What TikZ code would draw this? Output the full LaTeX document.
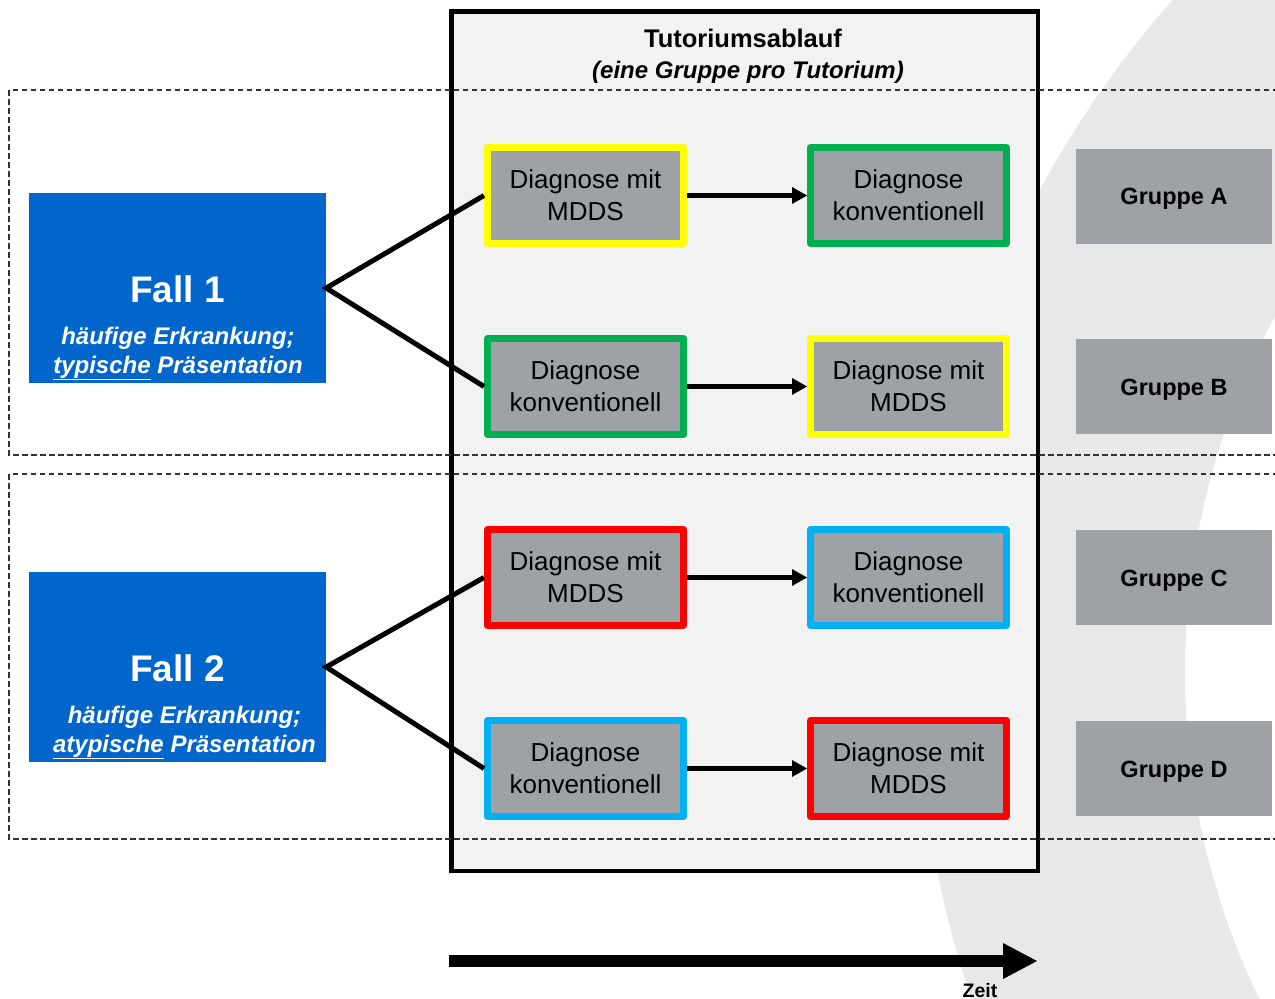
\documentclass[tikz,border=0pt]{standalone}
\usepackage{fontspec}
\setmainfont{Liberation Sans}
\usetikzlibrary{arrows.meta}
\definecolor{fallblue}{HTML}{0066CC}
\definecolor{boxgrey}{HTML}{9EA2A6}
\definecolor{tutfill}{HTML}{F2F2F2}
\definecolor{arcgrey}{HTML}{E8E8E8}
\definecolor{myyellow}{HTML}{FFFF00}
\definecolor{mygreen}{HTML}{00B050}
\definecolor{myred}{HTML}{FF0000}
\definecolor{mycyan}{HTML}{00B0F0}
\definecolor{dashgrey}{HTML}{333333}
\begin{document}
\begin{tikzpicture}[x=1pt,y=-1pt,
  diag/.style={draw=#1, fill=boxgrey, line width=7pt, minimum width=196pt,
    minimum height=96pt, inner sep=0pt, align=center, line join=round,
    font=\fontsize{26}{32}\selectfont},
  gruppe/.style={fill=boxgrey, minimum width=196pt, minimum height=95pt,
    inner sep=0pt, text height=17pt, text depth=0pt,
    font=\fontsize{23.5}{28}\selectfont\bfseries},
  fallbox/.style={fill=fallblue, minimum width=297pt, minimum height=190pt, inner sep=0pt},
  falltitle/.style={text=white, anchor=base, inner sep=0pt, font=\fontsize{37}{44}\selectfont\bfseries},
  fallsub/.style={text=white, anchor=base, inner sep=0pt, font=\fontsize{24}{29}\selectfont\bfseries\itshape},
  dashline/.style={draw=dashgrey, line width=1.1pt, dash pattern=on 5.5pt off 3.5pt},
  flow/.style={line width=5pt, -{Triangle[length=15pt,width=17pt,line width=0pt]}},
  branch/.style={line width=5pt},
]
\useasboundingbox (0,0) rectangle (1275,999);

% background arc
\begin{scope}
  \clip (0,0) rectangle (1275,999);
  \fill[arcgrey, even odd rule] (1935,673) circle[radius=1017pt] (1935,673) circle[radius=750pt];
\end{scope}

% tutorial frame
\node[draw=black, fill=tutfill, line width=4.5pt, minimum width=586.5pt, minimum height=859.5pt,
  inner sep=0pt] (tut) at (744.5,441) {};
\node[anchor=base, inner sep=0pt, font=\fontsize{25.5}{30}\selectfont\bfseries] (tit) at (743,47) {Tutoriumsablauf};
\node[anchor=base, inner sep=0pt, font=\fontsize{24}{29}\selectfont\bfseries\itshape] (sub) at (748,78) {(eine Gruppe pro Tutorium)};

% dashed case regions
\draw[dashline] (9,90) rectangle (1300,455);
\draw[dashline] (9,474) rectangle (1300,839);

% case boxes
\node[fallbox] (f1) at (177.5,288) {};
\node[falltitle] (f1t) at (177.5,302) {Fall 1};
\node[fallsub] (f1a) at (178,344) {häufige Erkrankung;};
\node[fallsub] (f1b) at (178,373) {\underline{typische} Präsentation};

\node[fallbox] (f2) at (177.5,667) {};
\node[falltitle] (f2t) at (177.5,681) {Fall 2};
\node[fallsub] (f2a) at (184.5,723) {häufige Erkrankung;};
\node[fallsub] (f2b) at (184.5,752) {\underline{atypische} Präsentation};

% diagnosis boxes
\node[diag=myyellow] (l1) at (585.5,195.5) {Diagnose mit\\MDDS};
\node[diag=mygreen]  (r1) at (908.5,195.5) {Diagnose\\konventionell};
\node[diag=mygreen]  (l2) at (585.5,386.5) {Diagnose\\konventionell};
\node[diag=myyellow] (r2) at (908.5,386.5) {Diagnose mit\\MDDS};
\node[diag=myred]    (l3) at (585.5,577.5) {Diagnose mit\\MDDS};
\node[diag=mycyan]   (r3) at (908.5,577.5) {Diagnose\\konventionell};
\node[diag=mycyan]   (l4) at (585.5,768.5) {Diagnose\\konventionell};
\node[diag=myred]    (r4) at (908.5,768.5) {Diagnose mit\\MDDS};

% connectors
\draw[branch] (l1.west) -- (f1.east) -- (l2.west);
\draw[branch] (l3.west) -- (f2.east) -- (l4.west);
\draw[flow] (l1.east) -- (r1.west);
\draw[flow] (l2.east) -- (r2.west);
\draw[flow] (l3.east) -- (r3.west);
\draw[flow] (l4.east) -- (r4.west);

% groups
\node[gruppe] (ga) at (1174,196) {Gruppe A};
\node[gruppe] (gb) at (1174,386.5) {Gruppe B};
\node[gruppe] (gc) at (1174,577.5) {Gruppe C};
\node[gruppe] (gd) at (1174,768.5) {Gruppe D};

% time arrow
\coordinate (z0) at (449,961);
\coordinate (z1) at (1037,961);
\draw[line width=12pt, -{Triangle[length=34pt,width=36pt,line width=0pt]}] (z0) -- (z1);
\node[anchor=base, inner sep=0pt, font=\fontsize{19.5}{23}\selectfont\bfseries] (zeit) at (980,997) {Zeit};
\end{tikzpicture}
\end{document}
